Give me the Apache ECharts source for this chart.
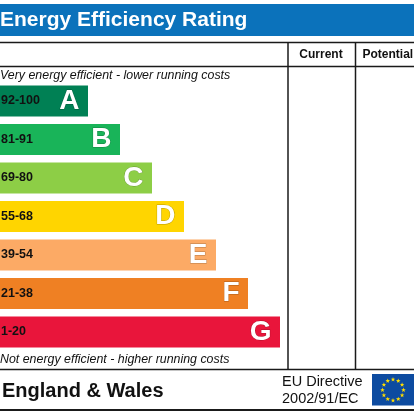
<!DOCTYPE html>
<html><head><meta charset="utf-8">
<script src="https://cdn.jsdelivr.net/npm/echarts@6/dist/echarts.min.js"></script>
<style>html,body{margin:0;padding:0;background:#fff}#c{width:414px;height:414px}</style>
</head><body><div id="c"></div>
<script>
const bands = ['A','B','C','D','E','F','G'];
const ranges = ['92-100','81-91','69-80','55-68','39-54','21-38','1-20'];
const barLengths = [88,120,152,184,216,248,280];
const bandColors = ['#008054','#19b459','#8dce46','#ffd500','#fcaa65','#ef8023','#e9153b'];
const titleText = 'Energy Efficiency Rating';
const headers = ['Current','Potential'];
const topNote = 'Very energy efficient - lower running costs';
const bottomNote = 'Not energy efficient - higher running costs';
const footerLeft = 'England & Wales';
const footerRight = ['EU Directive','2002/91/EC'];

const FONT = '"Liberation Sans", Arial, sans-serif';
const LINE = '#1a1a1a';

function line(x1,y1,x2,y2,w){
  return {type:'line',shape:{x1,y1,x2,y2},style:{stroke:LINE,lineWidth:w||1.5},z:10};
}
function starPoints(cx,cy,R,r){
  const pts=[];
  for(let i=0;i<10;i++){
    const a=-Math.PI/2+i*Math.PI/5;
    const rr=i%2===0?R:r;
    pts.push([cx+rr*Math.cos(a),cy+rr*Math.sin(a)]);
  }
  return pts;
}
const flagStars=[];
for(let i=0;i<12;i++){
  const a=i*Math.PI/6;
  flagStars.push({type:'polygon',shape:{points:starPoints(393+10.5*Math.cos(a),390+10.5*Math.sin(a),2.4,1.0)},style:{fill:'#ffdd00'},z:12});
}

const chart = echarts.init(document.getElementById('c'),null,{renderer:'canvas'});
chart.setOption({
  animation:false,
  grid:{left:0,top:81.75,width:288,height:269.5,containLabel:false},
  xAxis:{type:'value',min:0,max:288,show:false},
  yAxis:{type:'category',data:bands,inverse:true,show:false},
  series:[
    {type:'bar',barWidth:31,
     data:barLengths.map((v,i)=>({value:v,itemStyle:{color:bandColors[i]}})),
     label:{show:true,position:'insideLeft',distance:1,
       formatter:p=>ranges[p.dataIndex],
       fontFamily:FONT,fontWeight:'bold',fontSize:12.5,color:'#111'}},
    {type:'bar',barWidth:31,barGap:'-100%',
     data:barLengths,itemStyle:{color:'rgba(0,0,0,0)'},
     label:{show:true,position:'insideRight',distance:8.5,
       formatter:p=>bands[p.dataIndex],
       fontFamily:FONT,fontWeight:'bold',fontSize:28,color:'#fff',
       textBorderColor:'rgba(0,0,0,0.3)',textBorderWidth:0.8}}
  ],
  graphic:[
    {type:'rect',shape:{x:0,y:4,width:414,height:32},style:{fill:'#0b72bb'}},
    {type:'text',x:0,y:20.5,style:{text:titleText,font:'bold 21px '+FONT,fill:'#fff',textVerticalAlign:'middle'}},
    line(0,42.5,414,42.5),
    line(0,66.5,414,66.5),
    line(288,42.5,288,369.5),
    line(355.5,42.5,355.5,369.5),
    line(0,369.5,414,369.5),
    line(0,410,414,410,2),
    {type:'text',x:321,y:54.5,style:{text:headers[0],font:'bold 12px '+FONT,fill:'#111',textAlign:'center',textVerticalAlign:'middle'}},
    {type:'text',x:362.5,y:54.5,style:{text:headers[1],font:'bold 12px '+FONT,fill:'#111',textAlign:'left',textVerticalAlign:'middle'}},
    {type:'text',x:0,y:75.5,style:{text:topNote,font:'italic 12.4px '+FONT,fill:'#111',textVerticalAlign:'middle'}},
    {type:'text',x:0,y:359.5,style:{text:bottomNote,font:'italic 12.4px '+FONT,fill:'#111',textVerticalAlign:'middle'}},
    {type:'text',x:2,y:391,style:{text:footerLeft,font:'bold 20px '+FONT,fill:'#111',textVerticalAlign:'middle'}},
    {type:'text',x:282,y:382,style:{text:footerRight[0],font:'14.5px '+FONT,fill:'#111',textVerticalAlign:'middle'}},
    {type:'text',x:282,y:398.5,style:{text:footerRight[1],font:'14.5px '+FONT,fill:'#111',textVerticalAlign:'middle'}},
    {type:'rect',shape:{x:372,y:374,width:42,height:31.5},style:{fill:'#0d4ba0'},z:11}
  ].concat(flagStars)
});
</script></body></html>
